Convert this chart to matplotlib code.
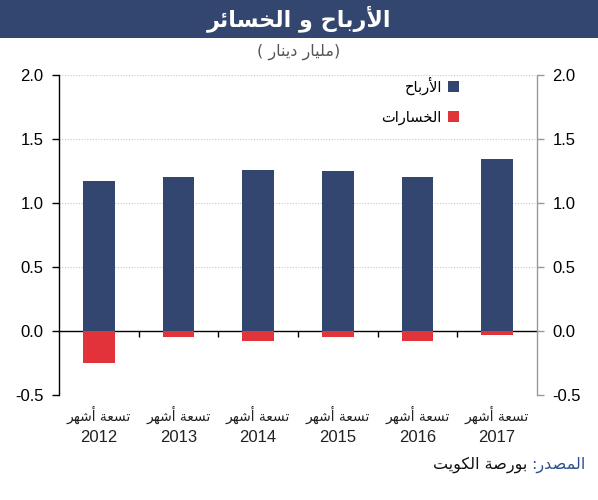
import matplotlib
matplotlib.use("Agg")
import matplotlib.pyplot as plt
import matplotlib.transforms as mtransforms
from matplotlib.patches import Rectangle
import numpy as np

# ---------------- data ----------------
years = ["2012", "2013", "2014", "2015", "2016", "2017"]
period_label = "تسعة أشهر"
profits = [1.17, 1.20, 1.26, 1.25, 1.20, 1.34]
losses = [-0.25, -0.05, -0.08, -0.05, -0.08, -0.03]
title_text = "الأرباح و الخسائر"
unit_text = "(مليار دينار )"
legend_labels = ["الأرباح", "الخسارات"]
source_label = "المصدر:"
source_text = "بورصة الكويت"
yticks = [-0.5, 0.0, 0.5, 1.0, 1.5, 2.0]

# ------------- minimal Arabic shaping (presentation forms) -------------
FORMS = {  # isolated, final, initial, medial
    'ا': ('\uFE8D', '\uFE8E', None, None),
    'أ': ('\uFE83', '\uFE84', None, None),
    'ب': ('\uFE8F', '\uFE90', '\uFE91', '\uFE92'),
    'ة': ('\uFE93', '\uFE94', None, None),
    'ت': ('\uFE95', '\uFE96', '\uFE97', '\uFE98'),
    'ح': ('\uFEA1', '\uFEA2', '\uFEA3', '\uFEA4'),
    'خ': ('\uFEA5', '\uFEA6', '\uFEA7', '\uFEA8'),
    'د': ('\uFEA9', '\uFEAA', None, None),
    'ر': ('\uFEAD', '\uFEAE', None, None),
    'س': ('\uFEB1', '\uFEB2', '\uFEB3', '\uFEB4'),
    'ش': ('\uFEB5', '\uFEB6', '\uFEB7', '\uFEB8'),
    'ص': ('\uFEB9', '\uFEBA', '\uFEBB', '\uFEBC'),
    'ع': ('\uFEC9', '\uFECA', '\uFECB', '\uFECC'),
    'ك': ('\uFED9', '\uFEDA', '\uFEDB', '\uFEDC'),
    'ل': ('\uFEDD', '\uFEDE', '\uFEDF', '\uFEE0'),
    'م': ('\uFEE1', '\uFEE2', '\uFEE3', '\uFEE4'),
    'ن': ('\uFEE5', '\uFEE6', '\uFEE7', '\uFEE8'),
    'ه': ('\uFEE9', '\uFEEA', '\uFEEB', '\uFEEC'),
    'و': ('\uFEED', '\uFEEE', None, None),
    'ي': ('\uFEF1', '\uFEF2', '\uFEF3', '\uFEF4'),
    'ئ': ('\uFE89', '\uFE8A', '\uFE8B', '\uFE8C'),
}
DUAL = {k for k, v in FORMS.items() if v[2] is not None}
LAMALEF = {'ا': ('\uFEFB', '\uFEFC'), 'أ': ('\uFEF7', '\uFEF8')}
MIRROR = str.maketrans({'(': ')', ')': '('})


def shape(s):
    ch = list(s)
    out = []
    i = 0
    while i < len(ch):
        c = ch[i]
        prev_j = i > 0 and ch[i - 1] in DUAL
        if c == 'ل' and i + 1 < len(ch) and ch[i + 1] in LAMALEF:
            iso, fin = LAMALEF[ch[i + 1]]
            out.append(fin if prev_j else iso)
            i += 2
            continue
        if c not in FORMS:
            out.append(c)
            i += 1
            continue
        iso, fin, ini, med = FORMS[c]
        next_j = c in DUAL and i + 1 < len(ch) and ch[i + 1] in FORMS
        if prev_j and next_j:
            out.append(med)
        elif prev_j:
            out.append(fin)
        elif next_j:
            out.append(ini)
        else:
            out.append(iso)
        i += 1
    return ''.join(out)


def vis(s):
    return shape(s)[::-1].translate(MIRROR)


# ---------------- style ----------------
FONT = ['Liberation Sans', 'DejaVu Sans']
plt.rcParams['font.family'] = FONT
BLUE = '#33466f'
RED = '#e2323a'
GRID = '#c8c8c8'

fig = plt.figure(figsize=(5.98, 5.0), dpi=100)
W, H = 598, 500

# title band
fig.patches.append(Rectangle((0, 1 - 38 / H), 1, 38 / H, transform=fig.transFigure,
                             facecolor=BLUE, edgecolor='none', zorder=0))
fig.text(0.5, 1 - 19 / H, vis(title_text), color='white', fontsize=16, fontweight='bold',
         ha='center', va='center', family=['DejaVu Sans'])
fig.text(0.5, 1 - 52 / H, vis(unit_text), color='#555555', fontsize=11.5, ha='center',
         va='center', family=['DejaVu Sans'])

# axes: x from 59 to 537, y 2.0 at 75, -0.5 at 395
ax = fig.add_axes([59 / W, 1 - 395 / H, (537 - 59) / W, (395 - 75) / H])
x = np.arange(len(years))
bw = 0.40
ax.bar(x, profits, width=bw, color=BLUE, zorder=3, label=vis(legend_labels[0]))
ax.bar(x, losses, width=bw, color=RED, zorder=3, label=vis(legend_labels[1]))

ax.set_xlim(-0.5, len(years) - 0.5)
ax.set_ylim(-0.5, 2.0)
ax.set_yticks(yticks)
ax.set_yticklabels([f"{v:.1f}" for v in yticks], fontsize=12)
for v in yticks:
    if v != 0:
        ax.axhline(v, color=GRID, linestyle=(0, (1, 1.5)), linewidth=0.8, zorder=1)

for s in ['top', 'right']:
    ax.spines[s].set_visible(False)
ax.spines['left'].set_color('black')
ax.spines['left'].set_linewidth(1.0)
ax.spines['bottom'].set_position(('data', 0))
ax.spines['bottom'].set_linewidth(1.0)
ax.tick_params(axis='y', direction='out', length=5, width=1, color='black', pad=6)
ax.set_xticks(x[:-1] + 0.5)
ax.set_xticklabels([])
ax.tick_params(axis='x', direction='out', length=4, width=1)

# right axis
ax2 = ax.twinx()
ax2.set_ylim(ax.get_ylim())
ax2.set_yticks(yticks)
ax2.set_yticklabels([f"{v:.1f}" for v in yticks], fontsize=12)
for s in ['top', 'left', 'bottom']:
    ax2.spines[s].set_visible(False)
ax2.spines['right'].set_color('#999999')
ax2.spines['right'].set_linewidth(1.0)
ax2.tick_params(axis='y', direction='out', length=5, width=1, color='#999999', pad=6)

# category labels
trans = mtransforms.blended_transform_factory(ax.transData, fig.transFigure)
for xi, yr in zip(x, years):
    ax.text(xi, 1 - 415 / H, vis(period_label), transform=trans, ha='center', va='center',
            fontsize=10, family=['DejaVu Sans'], color='#222222')
    ax.text(xi, 1 - 437 / H, yr, transform=trans, ha='center', va='center',
            fontsize=12, color='#222222')

# legend
leg = ax.legend(loc='upper right', bbox_to_anchor=(0.865, 1.035), frameon=False, markerfirst=False,
                handlelength=0.8, handleheight=0.8, handletextpad=0.4, labelspacing=1.0,
                prop={'family': 'DejaVu Sans', 'size': 10.5})

# source
fig.canvas.draw()
r = fig.canvas.get_renderer()
t1 = fig.text(585 / W, 1 - 465 / H, vis(source_label), color='#2f4f8f', fontsize=11.5,
              ha='right', va='center', family=['DejaVu Sans'])
bb = t1.get_window_extent(renderer=r)
fig.text((bb.x0 - 3) / W, 1 - 465 / H, vis(source_text), color='#111111', fontsize=11.5,
         ha='right', va='center', family=['DejaVu Sans'])

fig.savefig("out.png", dpi=100)
